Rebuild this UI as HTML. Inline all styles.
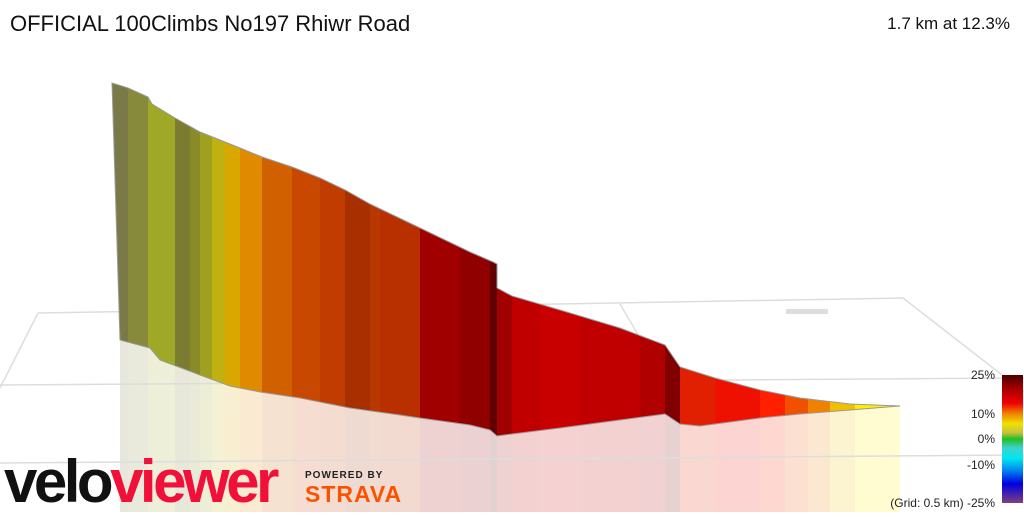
<!DOCTYPE html><html><head><style>body{margin:0;width:1024px;height:512px;overflow:hidden;background:#fff;font-family:"Liberation Sans",sans-serif}</style></head><body>
<svg width="1024" height="512" viewBox="0 0 1024 512" xmlns="http://www.w3.org/2000/svg">
<defs>
<linearGradient id="g" gradientUnits="userSpaceOnUse" x1="112" y1="0" x2="900" y2="0">
<stop offset="0" stop-color="#7a7a48"/><stop offset=".0203" stop-color="#7a7a48"/>
<stop offset=".0203" stop-color="#868a3a"/><stop offset=".0457" stop-color="#868a3a"/>
<stop offset=".0457" stop-color="#a0a828"/><stop offset=".0799" stop-color="#a0a828"/>
<stop offset=".0799" stop-color="#7c7c30"/><stop offset=".099" stop-color="#7c7c30"/>
<stop offset=".099" stop-color="#8a8a2a"/><stop offset=".1117" stop-color="#8a8a2a"/>
<stop offset=".1117" stop-color="#a0a020"/><stop offset=".1269" stop-color="#a0a020"/>
<stop offset=".1269" stop-color="#c0b010"/><stop offset=".1434" stop-color="#c0b010"/>
<stop offset=".1434" stop-color="#d8a800"/><stop offset=".1624" stop-color="#d8a800"/>
<stop offset=".1624" stop-color="#e08a00"/><stop offset=".1904" stop-color="#e08a00"/>
<stop offset=".1904" stop-color="#d06000"/><stop offset=".2284" stop-color="#d06000"/>
<stop offset=".2284" stop-color="#c84800"/><stop offset=".264" stop-color="#c84800"/>
<stop offset=".264" stop-color="#c03c00"/><stop offset=".2957" stop-color="#c03c00"/>
<stop offset=".2957" stop-color="#a83000"/><stop offset=".3274" stop-color="#a83000"/>
<stop offset=".3274" stop-color="#b83800"/><stop offset=".3401" stop-color="#b83800"/>
<stop offset=".3401" stop-color="#b83000"/><stop offset=".3909" stop-color="#b83000"/>
<stop offset=".3909" stop-color="#a00000"/><stop offset=".4416" stop-color="#a00000"/>
<stop offset=".4416" stop-color="#900000"/><stop offset=".4797" stop-color="#900000"/>
<stop offset=".4797" stop-color="#600000"/><stop offset=".4886" stop-color="#600000"/>
<stop offset=".4886" stop-color="#a00000"/><stop offset=".5076" stop-color="#a00000"/>
<stop offset=".5076" stop-color="#c00000"/><stop offset=".5431" stop-color="#c00000"/>
<stop offset=".5431" stop-color="#c80000"/><stop offset=".5939" stop-color="#c80000"/>
<stop offset=".5939" stop-color="#c00000"/><stop offset=".67" stop-color="#c00000"/>
<stop offset=".67" stop-color="#b00000"/><stop offset=".7018" stop-color="#b00000"/>
<stop offset=".7018" stop-color="#800000"/><stop offset=".7208" stop-color="#800000"/>
<stop offset=".7208" stop-color="#e02000"/><stop offset=".7652" stop-color="#e02000"/>
<stop offset=".7652" stop-color="#ee1000"/><stop offset=".8223" stop-color="#ee1000"/>
<stop offset=".8223" stop-color="#ff2000"/><stop offset=".8541" stop-color="#ff2000"/>
<stop offset=".8541" stop-color="#f05000"/><stop offset=".8832" stop-color="#f05000"/>
<stop offset=".8832" stop-color="#f08000"/><stop offset=".9112" stop-color="#f08000"/>
<stop offset=".9112" stop-color="#f0c000"/><stop offset=".9429" stop-color="#f0c000"/>
<stop offset=".9429" stop-color="#ffee00"/><stop offset="1" stop-color="#ffee00"/>
</linearGradient>
<linearGradient id="cb" x1="0" y1="0" x2="0" y2="1">
<stop offset="0" stop-color="#4a0000"/><stop offset="0.1" stop-color="#a00000"/><stop offset="0.22" stop-color="#f00000"/><stop offset="0.3" stop-color="#f08000"/><stop offset="0.38" stop-color="#f0e000"/><stop offset="0.45" stop-color="#c8c040"/><stop offset="0.5" stop-color="#20c020"/><stop offset="0.57" stop-color="#40d0d0"/><stop offset="0.65" stop-color="#00e8f0"/><stop offset="0.75" stop-color="#0080f0"/><stop offset="0.85" stop-color="#0000e0"/><stop offset="1" stop-color="#804080"/></linearGradient>
</defs>
<polygon fill="url(#g)" opacity="0.18" points="120,340 150,348 160,360 200,375 230,386 260,392 300,398 350,408 400,415 420,418 470,425 490,430 497,436 512,434 560,428 620,420 665,414 680,424 700,426 715,424 760,418 800,414 850,410 900,406 900,512 120,512"/>
<g stroke="#ddd" stroke-width="1.5" fill="none">
<path d="M38 313 L903 298 L1024 392"/><path d="M38 313 L0 388"/><path d="M620 304 L640 338"/><path d="M0 463 L1024 455"/><path d="M0 385 L1024 378"/>
</g>
<rect x="786" y="309" width="42" height="5" fill="#ddd"/>
<polygon fill="url(#g)" stroke="#999" stroke-width="1" points="112,83 128,88 148,97 152,104 175,118 200,132 240,148 262,157 292,167 320,178 345,190 370,204 420,228 470,252 493,262 497,264 497,288 512,296 560,310 620,328 665,345 680,367 715,378 760,390 800,398 850,404 900,406 850,410 800,414 760,418 715,424 700,426 680,424 665,414 620,420 560,428 512,434 497,436 490,430 470,425 420,418 400,415 350,408 300,398 260,392 230,386 200,375 160,360 150,348 120,340"/>
<text x="10" y="31" font-size="22" fill="#111">OFFICIAL 100Climbs No197 Rhiwr Road</text>
<text x="1010" y="29" font-size="17" fill="#111" text-anchor="end">1.7 km at 12.3%</text>
<rect x="1002" y="375" width="21" height="128" fill="url(#cb)"/>
<g font-size="12" fill="#222" text-anchor="end"><text x="995" y="379">25%</text><text x="995" y="418">10%</text><text x="995" y="443">0%</text><text x="995" y="469">-10%</text><text x="995" y="507">(Grid: 0.5 km) -25%</text></g>
<text x="4" y="502" font-size="60" font-weight="bold" letter-spacing="-3.5" fill="#111">velo<tspan fill="#f0103a">viewer</tspan></text>
<text x="305" y="478" font-size="10" font-weight="bold" fill="#222" letter-spacing="1">POWERED BY</text>
<text x="305" y="502" font-size="23" font-weight="bold" fill="#fc5200" letter-spacing="1">STRAVA</text>
</svg>
</body></html>
